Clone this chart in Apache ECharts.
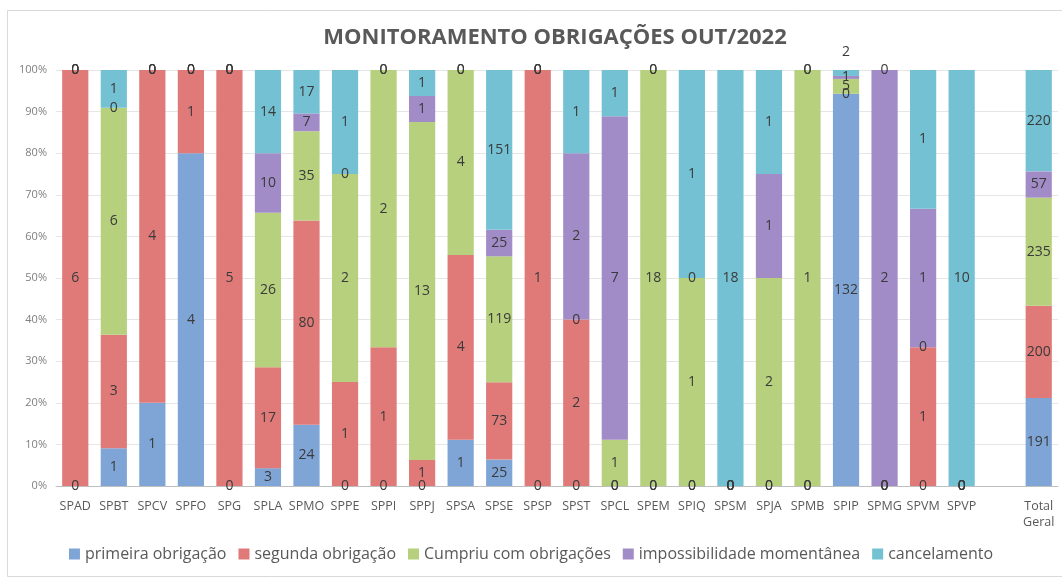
<!DOCTYPE html>
<html><head><meta charset="utf-8">
<script src="https://cdn.jsdelivr.net/npm/echarts@6/dist/echarts.min.js"></script>
<style>html,body{margin:0;padding:0;background:#fff}#c{width:1062px;height:578px}</style>
</head><body><div id="c"></div>
<script>
const categories = ['SPAD','SPBT','SPCV','SPFO','SPG','SPLA','SPMO','SPPE','SPPI','SPPJ','SPSA','SPSE','SPSP','SPST','SPCL','SPEM','SPIQ','SPSM','SPJA','SPMB','SPIP','SPMG','SPVM','SPVP','','Total\nGeral'];
const seriesNames = ['primeira obrigação','segunda obrigação','Cumpriu com obrigações','impossibilidade momentânea','cancelamento'];
const primeira     = [0,1,1,4,0,3,24,0,0,0,1,25,0,0,0,0,0,0,0,0,132,0,0,0,null,191];
const segunda      = [6,3,4,1,5,17,80,1,1,1,4,73,1,2,0,0,0,0,0,0,0,0,1,0,null,200];
const cumpriu      = [0,6,0,0,0,26,35,2,2,13,4,119,0,0,1,18,1,0,2,1,5,0,0,0,null,235];
const impossib     = [0,0,0,0,0,10,7,0,0,1,0,25,0,2,7,0,0,0,1,0,1,2,1,0,null,57];
const cancelamento = [0,1,0,0,0,14,17,1,0,1,0,151,0,1,1,0,1,18,1,0,2,0,1,10,null,220];
const yTicks = [0,10,20,30,40,50,60,70,80,90,100];
const colors = ['#7fa5d6','#df7a78','#b6d07e','#a28cc8','#74c1d4'];

const raw = [primeira, segunda, cumpriu, impossib, cancelamento];
const totals = categories.map((c,i)=>raw.reduce((s,a)=>s+(a[i]||0),0));

const series = raw.map((arr,si)=>({
  name: seriesNames[si],
  type: 'bar',
  stack: 'all',
  barWidth: '68%',
  itemStyle: {color: colors[si]},
  label: {
    show: true, position: 'inside', fontSize: 14, color: '#3a3a3a',
    fontFamily: 'Open Sans',
    formatter: p => (p.data && p.data.raw != null) ? String(p.data.raw) : ''
  },
  data: arr.map((v,i)=>{
    if (v == null) return {value: null, raw: null};
    const item = {value: totals[i] ? v/totals[i]*100 : 0, raw: v};
    if (si === 4 && categories[i] === 'SPIP') {
      item.label = {position: 'top', distance: 2, offset: [0,-9]};
    }
    return item;
  })
}));

const chart = echarts.init(document.getElementById('c'), null, {renderer:'canvas'});
chart.setOption({
  animation: false,
  backgroundColor: '#fff',
  title: {
    text: 'MONITORAMENTO OBRIGAÇÕES OUT/2022',
    left: 550, top: 22, textAlign: 'center',
    textStyle: {fontFamily: 'Open Sans', fontWeight: 'bold', fontSize: 22, color: '#595959'}
  },
  graphic: [{type:'rect', shape:{x:7.5,y:10.5,width:1060,height:566}, style:{fill:'none', stroke:'#d9d9d9', lineWidth:1}, silent:true}],
  legend: {
    bottom: 11, left: 'center', icon: 'rect', itemWidth: 11, itemHeight: 11, itemGap: 12,
    textStyle: {fontFamily: 'Open Sans', fontSize: 16, color: '#595959'},
    data: seriesNames
  },
  grid: {left: 56, right: 4, top: 70, bottom: 92, containLabel: false},
  xAxis: {
    type: 'category', data: categories,
    axisTick: {show: false},
    axisLine: {lineStyle: {color: '#bfbfbf'}},
    axisLabel: {interval: 0, fontFamily: 'Open Sans', fontSize: 12.5, color: '#595959', margin: 12, lineHeight: 16}
  },
  yAxis: {
    type: 'value', min: yTicks[0], max: yTicks[yTicks.length-1], interval: 10,
    axisLine: {show: false}, axisTick: {show: false},
    axisLabel: {formatter: '{value}%', fontFamily: 'Open Sans', fontSize: 11, color: '#7f7f7f', margin: 9},
    splitLine: {lineStyle: {color: '#e6e6e6'}}
  },
  series: series
});
</script></body></html>
